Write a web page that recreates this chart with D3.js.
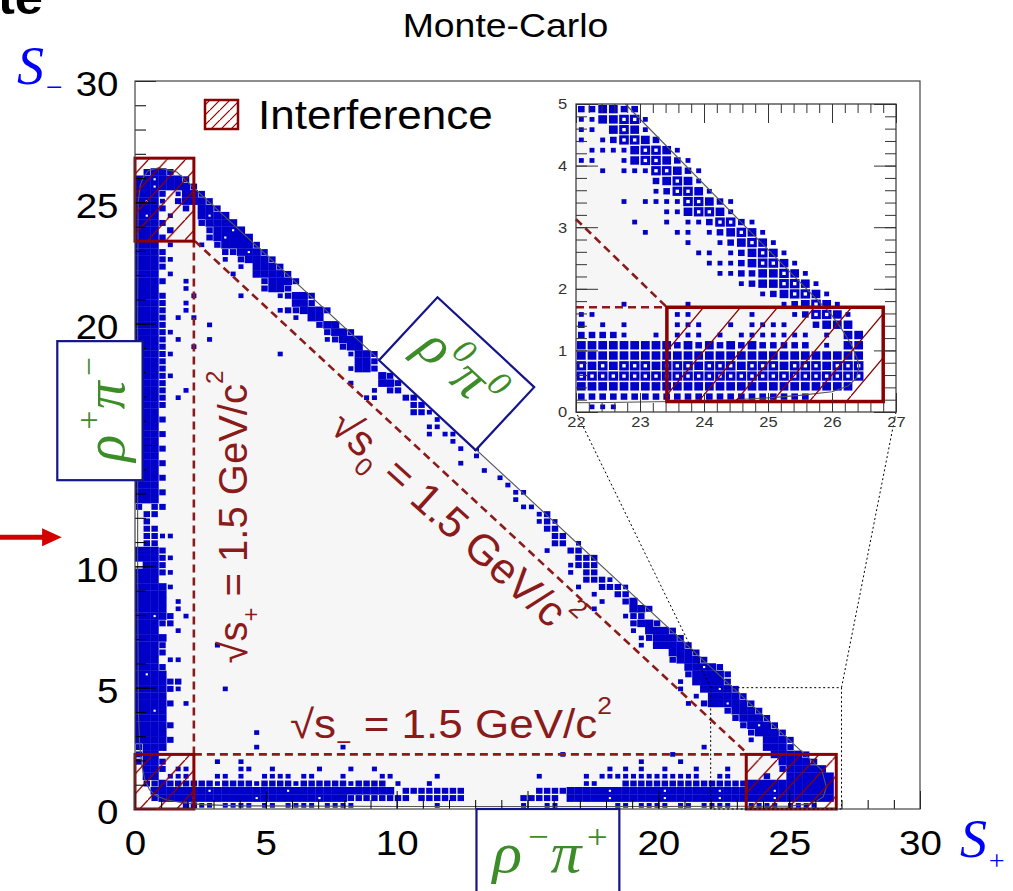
<!DOCTYPE html>
<html><head><meta charset="utf-8">
<script src="https://cdn.jsdelivr.net/npm/d3@7"></script>
<style>html,body{margin:0;padding:0;background:#fff;overflow:hidden}</style>
</head><body>
<svg id="chart" width="1013" height="891" xmlns="http://www.w3.org/2000/svg"></svg>
<script>
// ---------------- DATA ----------------
const titleText = "Monte-Carlo";
const legendLabel = "Interference";
const xTickValues = [0, 5, 10, 15, 20, 25, 30];
const yTickValues = [0, 5, 10, 15, 20, 25, 30];
const insetXTicks = [22, 23, 24, 25, 26, 27];
const insetYTicks = [0, 1, 2, 3, 4, 5];
const mainBin = 0.3;      // GeV^2 per bin, main histogram
const insetBin = 1 / 6;   // GeV^2 per bin, zoomed histogram

// main histogram: [row, firstColumn, box sizes per column (' ' = empty)]
const mainCells = [
[0,6,"3322 2222 22 2222 2222"],[0,38,"2"],[0,49,"2  22"],[0,61,"22 2222 22 2222"],[0,78,"2222 2222"],
[1,2,"3444454444444544444445444"],[1,27,"33333333 333333"],[1,49,"33333 4444454444445444444544444454444444"],
[2,2,"4444444544444444454444444444444"],[2,34,"33333333"],[2,51,"3333"],[2,55,"4444454444445444444544444454444444"],
[3,1,"3343333"],[3,8,"332333323333233333323333"],[3,33,"2"],[3,37,"2"],[3,57,"22"],[3,62,"3333333333333333"],[3,78,"44444444444"],
[4,1,"44 222"],[4,10,"22 2  2222 22"],[4,26,"2"],[4,31,"22"],[4,38,"2"],[4,51,"2"],[4,57,"2 2222222222222"],[4,74,"22"],[4,80,"3  444444"],
[5,1,"443 22"],[5,13,"22"],[5,17,"2"],[5,23,"2"],[5,27,"2"],[5,30,"2"],[5,60,"2 2 2  2   2   2"],[5,82,"344444"],
[6,0,"3443"],[6,10,"2"],[6,13,"2"],[6,64,"2    2"],[6,82,"44443"],
[7,0,"344"],[7,54,"2"],[7,68,"2"],[7,81,"44443"],
[8,0,"3444"],[8,15,"2"],[8,26,"2"],[8,72,"2"],[8,80,"4443"],
[9,0,"44443"],[9,78,"2 4443"],
[10,0,"4444"],[10,15,"2"],[10,78,"34443"],
[11,0,"44443"],[11,77,"34543"],
[12,0,"4444"],[12,76,"34443"],
[13,0,"4454"],[13,75,"34443"],
[14,0,"44443 2"],[14,70,"2 3445443"],
[15,0,"4444"],[15,71,"2 44443"],
[16,0,"444432"],[16,11,"2"],[16,69,"2  44543"],
[17,0,"444433"],[17,69,"2 44443"],
[18,0,"4544"],[18,70,"344443"],
[19,0,"4443"],[19,70,"44543"],
[20,0,"444 22"],[20,68,"34443"],
[21,0,"4443"],[21,68,"4443"],
[22,0,"4443"],[22,10,"2"],[22,64,"2 44443"],
[23,0,"4444"],[23,64,"234443"],
[24,0,"444  2"],[24,63,"2 4443"],
[25,0,"44433"],[25,63,"3443"],
[26,0,"44543 2"],[26,62,"233"],
[27,0,"4444 2"],[27,58,"2    443"],
[28,0,"4444 2"],[28,59,"2  34"],
[29,0,"4444"],[29,58,"2  33"],
[30,0,"44442"],[30,56,"2  3332"],
[31,0,"444"],[31,57,"3332"],
[32,0,"44432"],[32,55,"2 33"],
[33,1,"443"],[33,55,"2333"],
[34,0,"44432"],[34,56,"333"],
[35,0,"4443"],[35,52,"2  33"],
[36,1,"33"],[36,53,"33 2"],
[37,1,"3322"],[37,53,"33"],
[38,1,"33"],[38,52,"33"],
[39,1,"3"],[39,51,"232"],
[40,1,"33"],[40,51,"23"],
[41,0,"3 33"],[41,49,"22"],
[42,0,"444"],[42,48,"2"],
[43,0,"4443"],[43,48,"22"],
[44,0,"444"],[44,47,"2"],
[45,0,"4443"],[45,46,"2"],
[46,0,"444"],[46,44,"2"],
[47,0,"4443"],[47,41,"2"],
[48,0,"444"],[48,43,"2"],
[49,0,"4443"],[49,41,"2 2"],
[50,0,"444"],[50,40,"2"],
[51,0,"4443"],[51,37,"2 22"],
[52,0,"444"],[52,37,"22"],
[53,0,"4443"],[53,38,"2"],
[54,0,"444"],[54,35,"332"],
[55,0,"4443"],[55,35,"33"],
[56,0,"4443 2"],[56,29,"22"],[56,34,"33"],
[57,0,"4443  2"],[57,30,"2 33"],
[58,0,"4443"],[58,27,"2"],[58,31,"443"],
[59,0,"44432"],[59,31,"43"],
[60,0,"4443"],[60,27,"2443"],
[61,0,"4443"],[61,28,"443"],
[62,0,"44432"],[62,18,"2"],[62,27,"2443"],
[63,0,"4443   2"],[63,26,"344"],
[64,0,"4443 2"],[64,9,"2"],[64,24,"23444"],
[65,0,"44432"],[65,24,"3443"],
[66,0,"4443"],[66,9,"2"],[66,23,"344"],
[67,0,"4443 2 2"],[67,20,"2 44"],
[68,0,"4443  2"],[68,18,"2334443"],
[69,0,"4443  2"],[69,20,"443"],
[70,0,"4443"],[70,7,"2"],[70,13,"2"],[70,18,"23443"],
[71,0,"444"],[71,6,"2"],[71,16,"3443"],
[72,0,"4443  2"],[72,16,"34443"],
[73,0,"444 2"],[73,12,"2  44443"],
[74,0,"4443"],[74,13,"2 4443"],
[75,0,"44432"],[75,11,"2 34443"],
[76,0,"4443"],[76,11,"334543"],
[77,0,"444 2   2 344443"],
[78,0,"4443     345444"],
[79,0,"444 3    34454"],
[80,0,"4443    34444"],
[81,0,"454 2   4544"],
[82,0,"4443  3 443"],
[83,0,"4542 34443"],
[84,0,"4443 2443"],
[85,0,"44544443"],
[86,0,"4454443"],
[87,1,"3443"]
];

// zoomed histogram (22-27 x 0-5): [row, box sizes from column 0]
const insetCells = [
[29,"334433"],
[28,"2244552"],
[27,"22 4542"],
[26,"2 235543"],
[25," 222245542"],
[24,"22  2455432"],
[23,"  2 22255432"],
[22,"       34542"],
[21,"       235542"],
[20,"    2 222255432"],
[19,"        2245542"],
[18,"     2  2 2235532"],
[17,"      2  22 234542"],
[16,"          2  234542"],
[15,"           22 234542"],
[14,"            222345542"],
[13,"             223344542"],
[12,"               23445542"],
[11,"                 2345542"],
[10,"    2     2        234542"],
[9,"22       22     2   235542"],
[8,"3 2 2    222  2 2222  3444"],
[7,"33332  2 222 2 2222222 2 44"],
[6,"4444444443434343433333 2 44"],
[5,"444444444444444444444444444"],
[4,"545455545554555455545554555"],
[3,"555555555555555555555555555"],
[2,"44444444444444444444444444"],
[1,"3333333333333333333333"],
[0," 222"]
];

// kinematic (Dalitz) boundary, main plot [s+, s-]
const mainBoundary = [
[0.1,20],[0.12,25.0],[0.2,25.7],[0.33,26.05],[0.5,26.3],[0.9,26.42],[1.6,26.25],
[26.25,1.6],[26.42,0.9],[26.3,0.5],[26.05,0.33],[25.7,0.2],[25.0,0.12],[20,0.1],
[10,0.1],[4,0.13],[2.6,0.18],[1.8,0.26],[1.2,0.38],[0.8,0.55],[0.55,0.8],[0.38,1.2],
[0.26,1.8],[0.18,2.6],[0.13,4],[0.1,10]
];
// boundary as seen in the zoomed panel
const insetBoundary = [
[22.77,5],[25.97,1.61],[26.15,1.35],[26.3,1.1],[26.4,0.85],[26.42,0.72],[26.38,0.55],
[26.25,0.42],[26.0,0.33],[25.5,0.27],[25.0,0.23],[24.5,0.2],[23.5,0.17],[22.5,0.155],[22,0.15]
];
// interference regions [x0, x1, y0, y1]
const interferenceBoxes = [[0,2.25,23.4,26.82],[0,2.25,0,2.25],[23.36,26.8,0,2.25]];
const insetInterference = [23.42,26.8,0.17,1.7];
// sqrt(s) = 1.5 GeV/c^2 cut lines [x0,y0,x1,y1]
const cutLines = [[2.25,2.25,2.25,23.4],[2.25,2.25,23.4,2.25],[2.29,23.4,23.4,2.29]];
const insetCutLines = [[22,1.7,23.42,1.7],[22,3.13,23.42,1.7]];
const zoomWindow = [22,27,0,5];

// ---------------- DRAWING ----------------
const SANS = "'Liberation Sans', Arial, Helvetica, sans-serif";
const SERIF = "'Liberation Serif', 'Times New Roman', Times, serif";
const STRETCH = 1.1;
const BLUE = "#0000c8";
const DARKRED = "#8b0000";
const CUTRED = "#8b1a1a";
const GREEN = "#3c8c28";
const NAVY = "#14148c";

const svg = d3.select("#chart");
const x = d3.scaleLinear().domain([0,30]).range([135,920]);
const y = d3.scaleLinear().domain([0,30]).range([809,81]);
const ix = d3.scaleLinear().domain([22,27]).range([576,896]);
const iy = d3.scaleLinear().domain([0,5]).range([412,104]);

const defs = svg.append("defs");
defs.append("clipPath").attr("id","clipMain").append("rect")
  .attr("x",x(0)).attr("y",y(30)).attr("width",x(30)-x(0)).attr("height",y(0)-y(30));
defs.append("clipPath").attr("id","clipInset").append("rect")
  .attr("x",ix(22)).attr("y",iy(5)).attr("width",ix(27)-ix(22)).attr("height",iy(0)-iy(5));

function hatch(id, w, h, sw){
  const p = defs.append("pattern").attr("id",id).attr("patternUnits","userSpaceOnUse")
    .attr("width",w).attr("height",h);
  p.append("path").attr("d",`M0,${h} L${w},0 M${-w},${h} L0,0 M${w},${2*h} L${2*w},${h}`)
    .attr("stroke",DARKRED).attr("stroke-width",sw).attr("fill","none");
}
hatch("hatchMain",18.5,20,1.3);
hatch("hatchInset",37,44,1.3);
hatch("hatchLegend",10,10,1.2);

function drawCells(g, xs, ys, bin, cells, sizes, hole){
  const cw = xs(bin) - xs(0), chh = ys(0) - ys(bin);
  const flat = [];
  cells.forEach(([r,c,p]) => {
    for (let i=0;i<p.length;i++){ const k=p[i]; if (k!==' ') flat.push({r:r, c:c+i, k:k}); }
  });
  const x0 = xs.domain()[0], y0 = ys.domain()[0];
  const cx = d => xs(x0 + (d.c+0.5)*bin), cy = d => ys(y0 + (d.r+0.5)*bin);
  g.selectAll("rect.cell").data(flat).join("rect").attr("class","cell")
    .attr("x",d=>cx(d)-cw*sizes[d.k]/2).attr("y",d=>cy(d)-chh*sizes[d.k]/2)
    .attr("width",d=>cw*sizes[d.k]).attr("height",d=>chh*sizes[d.k]).attr("fill",BLUE);
  g.selectAll("rect.hole").data(flat.filter(d=>d.k==='5')).join("rect").attr("class","hole")
    .attr("x",d=>cx(d)-cw*hole/2).attr("y",d=>cy(d)-chh*hole/2)
    .attr("width",cw*hole).attr("height",chh*hole).attr("fill","#fff");
}

function rich(g, parts, size, opt){
  const t = g.append("text").attr("font-family",opt.family).attr("font-size",size)
    .attr("fill",opt.color).attr("text-anchor",opt.anchor||"start");
  if (opt.italic) t.attr("font-style","italic");
  if (opt.bold) t.attr("font-weight","bold");
  let shift = 0;
  parts.forEach(p => {
    const target = (p.dy||0)*size;
    const ts = t.append("tspan").attr("font-size", p.s ? size*p.s : size).attr("dy", target-shift).text(p.t);
    if (p.dx) ts.attr("dx", p.dx);
    shift = target;
  });
  return t;
}

// ---- main panel ----
const lineMain = d3.line().x(d=>x(d[0])).y(d=>y(d[1]));
svg.append("path").attr("d", lineMain(mainBoundary)+"Z").attr("fill","#f6f6f6");
const gCells = svg.append("g").attr("clip-path","url(#clipMain)");
drawCells(gCells, x, y, mainBin, mainCells, {"1":0.42,"2":0.64,"3":0.82,"4":1.04,"5":1.04}, 0.28);
svg.append("path").attr("d", lineMain(mainBoundary)+"Z").attr("fill","none")
  .attr("stroke","#555").attr("stroke-width",1.1);

svg.append("g").selectAll("line").data(cutLines).join("line")
  .attr("x1",d=>x(d[0])).attr("y1",d=>y(d[1])).attr("x2",d=>x(d[2])).attr("y2",d=>y(d[3]))
  .attr("stroke",CUTRED).attr("stroke-width",2.6).attr("stroke-dasharray","8,5");

svg.append("g").selectAll("rect").data(interferenceBoxes).join("rect")
  .attr("x",d=>x(d[0])).attr("y",d=>y(d[3])).attr("width",d=>x(d[1])-x(d[0])).attr("height",d=>y(d[2])-y(d[3]))
  .attr("fill","url(#hatchMain)").attr("stroke",DARKRED).attr("stroke-width",3);

// axes (ticks inward)
function styleAxis(g){ g.select(".domain").remove(); g.attr("color","#000"); }
const minorMain = d3.range(0,31);
svg.append("g").attr("transform",`translate(${x(0)},0)`)
  .call(d3.axisLeft(y).tickValues(minorMain).tickSize(-11).tickFormat("")).call(styleAxis);
const gyl = svg.append("g").attr("transform",`translate(${x(0)},0)`)
  .call(d3.axisLeft(y).tickValues(yTickValues).tickSize(-21).tickPadding(15).tickFormat(d3.format("d")))
  .call(styleAxis).attr("font-size",35).attr("font-family",SANS);
gyl.selectAll("text").attr("dy","0.42em").attr("transform",`scale(${STRETCH},1)`);
svg.append("g").attr("transform",`translate(0,${y(0)})`)
  .call(d3.axisBottom(x).tickValues(minorMain).tickSize(-9).tickFormat("")).call(styleAxis);
const gxl = svg.append("g").attr("transform",`translate(0,${y(0)})`)
  .call(d3.axisBottom(x).tickValues(xTickValues).tickSize(-18).tickPadding(21).tickFormat(d3.format("d")))
  .call(styleAxis).attr("font-size",35).attr("font-family",SANS);
gxl.selectAll("text").attr("transform",`scale(${STRETCH},1)`);

svg.append("rect").attr("x",x(0)).attr("y",y(30)).attr("width",x(30)-x(0)).attr("height",y(0)-y(30))
  .attr("fill","none").attr("stroke","#444").attr("stroke-width",1.2);

// zoom window + connectors
svg.append("rect").attr("x",x(zoomWindow[0])).attr("y",y(zoomWindow[3]))
  .attr("width",x(zoomWindow[1])-x(zoomWindow[0])).attr("height",y(zoomWindow[2])-y(zoomWindow[3]))
  .attr("fill","none").attr("stroke","#000").attr("stroke-width",1).attr("stroke-dasharray","2,2.5");
svg.append("g").selectAll("line").data([zoomWindow[0], zoomWindow[1]]).join("line")
  .attr("x1",d=>x(d)).attr("y1",y(zoomWindow[3])).attr("x2",d=>ix(d)).attr("y2",iy(0))
  .attr("stroke","#000").attr("stroke-width",1).attr("stroke-dasharray","2,2.5");

// ---- inset panel ----
svg.append("rect").attr("x",ix(22)).attr("y",iy(5)).attr("width",ix(27)-ix(22)).attr("height",iy(0)-iy(5)).attr("fill","#fff");
const lineInset = d3.line().x(d=>ix(d[0])).y(d=>iy(d[1]));
svg.append("path").attr("d", lineInset([[22,5]].concat(insetBoundary))+"Z").attr("fill","#f6f6f6");
const gInset = svg.append("g").attr("clip-path","url(#clipInset)");
drawCells(gInset, ix, iy, insetBin, insetCells.map(d=>[d[0],0,d[1]]), {"1":0.33,"2":0.46,"3":0.62,"4":0.82,"5":0.9}, 0.32);
svg.append("path").attr("d", lineInset(insetBoundary)).attr("fill","none").attr("stroke","#555").attr("stroke-width",1.1);
svg.append("g").selectAll("line").data(insetCutLines).join("line")
  .attr("x1",d=>ix(d[0])).attr("y1",d=>iy(d[1])).attr("x2",d=>ix(d[2])).attr("y2",d=>iy(d[3]))
  .attr("stroke",CUTRED).attr("stroke-width",2.6).attr("stroke-dasharray","8,5");
svg.append("rect").attr("x",ix(insetInterference[0])).attr("y",iy(insetInterference[3]))
  .attr("width",ix(insetInterference[1])-ix(insetInterference[0])).attr("height",iy(insetInterference[2])-iy(insetInterference[3]))
  .attr("fill","url(#hatchInset)").attr("stroke",DARKRED).attr("stroke-width",3.5);

const minorIX = d3.range(22,27.001,0.2), minorIY = d3.range(0,5.001,0.2);
function styleInset(g){ g.select(".domain").remove(); g.attr("color","#333"); }
svg.append("g").attr("transform",`translate(${ix(22)},0)`).call(d3.axisLeft(iy).tickValues(minorIY).tickSize(-11).tickFormat("")).call(styleInset);
const giy = svg.append("g").attr("transform",`translate(${ix(22)},0)`)
  .call(d3.axisLeft(iy).tickValues(insetYTicks).tickSize(-22).tickPadding(8).tickFormat(d3.format("d")))
  .call(styleInset).attr("font-size",15).attr("font-family",SANS);
giy.selectAll("text").attr("transform",`scale(${STRETCH},1)`);
svg.append("g").attr("transform",`translate(${ix(27)},0)`).call(d3.axisRight(iy).tickValues(minorIY).tickSize(-11).tickFormat("")).call(styleInset);
svg.append("g").attr("transform",`translate(${ix(27)},0)`).call(d3.axisRight(iy).tickValues(insetYTicks).tickSize(-22).tickFormat("")).call(styleInset);
svg.append("g").attr("transform",`translate(0,${iy(5)})`).call(d3.axisTop(ix).tickValues(minorIX).tickSize(-9).tickFormat("")).call(styleInset);
svg.append("g").attr("transform",`translate(0,${iy(5)})`).call(d3.axisTop(ix).tickValues(insetXTicks).tickSize(-19).tickFormat("")).call(styleInset);
svg.append("g").attr("transform",`translate(0,${iy(0)})`).call(d3.axisBottom(ix).tickValues(minorIX).tickSize(-9).tickFormat("")).call(styleInset);
const gix = svg.append("g").attr("transform",`translate(0,${iy(0)})`)
  .call(d3.axisBottom(ix).tickValues(insetXTicks).tickSize(-19).tickPadding(4).tickFormat(d3.format("d")))
  .call(styleInset).attr("font-size",15).attr("font-family",SANS);
gix.selectAll("text").attr("transform",`scale(${STRETCH},1)`);
svg.append("rect").attr("x",ix(22)).attr("y",iy(5)).attr("width",ix(27)-ix(22)).attr("height",iy(0)-iy(5))
  .attr("fill","none").attr("stroke","#333").attr("stroke-width",1.2);

// ---- annotations ----
// partial slide word at top-left (cut off by the page edge, as in the reference)
svg.append("g").attr("transform",`translate(-2,14) scale(${STRETCH},1)`)
  .append("text").attr("font-family",SANS).attr("font-weight","bold").attr("font-size",46).attr("fill","#000").text("te");
// title
svg.append("g").attr("transform",`translate(${x(14.16)},37) scale(${STRETCH},1)`)
  .append("text").attr("font-family",SANS).attr("font-size",34).attr("text-anchor","middle").attr("fill","#000").text(titleText);
// axis names
rich(svg.append("g").attr("transform","translate(17,84)"), [{t:"S"},{t:"−",s:0.55,dy:0.24}], 54, {family:SERIF,color:"#0000ff",italic:true});
rich(svg.append("g").attr("transform","translate(960,857)"), [{t:"S"},{t:"+",s:0.52,dy:0.24}], 54, {family:SERIF,color:"#0000ff",italic:true});
// legend
svg.append("rect").attr("x",205).attr("y",100).attr("width",33).attr("height",29)
  .attr("fill","url(#hatchLegend)").attr("stroke",DARKRED).attr("stroke-width",2.5);
svg.append("g").attr("transform",`translate(258,129) scale(${STRETCH},1)`)
  .append("text").attr("font-family",SANS).attr("font-size",40).attr("fill","#000").text(legendLabel);

// cut labels
rich(svg.append("g").attr("transform",`translate(${x(5.92)},738) scale(${STRETCH},1)`),
  [{t:"√s"},{t:"−",s:0.6,dy:0.3},{t:" = 1.5 GeV/c"},{t:"2",s:0.6,dy:-0.6}], 40, {family:SANS,color:CUTRED});
rich(svg.append("g").attr("transform",`translate(247,${y(12.03)}) rotate(-90)`),
  [{t:"√s"},{t:"+",s:0.6,dy:0.3},{t:" = 1.5 GeV/c"},{t:"2",s:0.6,dy:-0.6}], 40, {family:SANS,color:CUTRED,anchor:"middle"});
rich(svg.append("g").attr("transform",`translate(444,534) rotate(42)`),
  [{t:"√s"},{t:"0",s:0.6,dy:0.3},{t:" = 1.5 GeV/c"},{t:"2",s:0.6,dy:-0.6}], 43, {family:SERIF === "" ? SANS : SANS,color:CUTRED,anchor:"middle"});

// red arrow
const ay = y(11.2);
svg.append("path").attr("d",`M${x(-5.3)},${ay-2.5} L${x(-3.55)},${ay-2.5} L${x(-3.55)},${ay-9} L${x(-2.8)},${ay} L${x(-3.55)},${ay+9} L${x(-3.55)},${ay+2.5} L${x(-5.3)},${ay+2.5} Z`)
  .attr("fill","#d40000");

// channel boxes
const gL = svg.append("g");
gL.append("rect").attr("x",x(-2.97)).attr("y",y(19.28)).attr("width",x(0.29)-x(-2.97)).attr("height",y(13.55)-y(19.28))
  .attr("fill","#fff").attr("stroke",NAVY).attr("stroke-width",2.2);
rich(svg.append("g").attr("transform",`translate(124,${y(16.5)}) rotate(-90)`),
  [{t:"ρ"},{t:"+",s:0.6,dy:-0.42,dx:3},{t:"π",dy:0},{t:"−",s:0.6,dy:-0.42,dx:3}], 56, {family:SERIF,color:GREEN,italic:true,anchor:"middle"});

const gB = svg.append("g");
gB.append("rect").attr("x",x(13.05)).attr("y",y(0)).attr("width",x(18.51)-x(13.05)).attr("height",100)
  .attr("fill","#fff").attr("stroke",NAVY).attr("stroke-width",2.2);
rich(svg.append("g").attr("transform",`translate(${x(15.9)},872) scale(${STRETCH},1)`),
  [{t:"ρ"},{t:"−",s:0.6,dy:-0.42,dx:3},{t:"π",dy:0},{t:"+",s:0.6,dy:-0.42,dx:3}], 56, {family:SERIF,color:GREEN,italic:true,anchor:"middle"});

const gD = svg.append("g").attr("transform",`translate(${x(12.29)},${y(17.94)}) rotate(42.9)`);
gD.append("rect").attr("x",-66).attr("y",-43).attr("width",132).attr("height",86)
  .attr("fill","#fff").attr("stroke",NAVY).attr("stroke-width",2.2);
rich(gD.append("g").attr("transform","translate(0,12)"),
  [{t:"ρ"},{t:"0",s:0.62,dy:-0.4,dx:2},{t:"π",dy:0},{t:"0",s:0.62,dy:-0.4,dx:2}], 56, {family:SERIF,color:GREEN,italic:true,anchor:"middle"});
</script>
</body></html>
